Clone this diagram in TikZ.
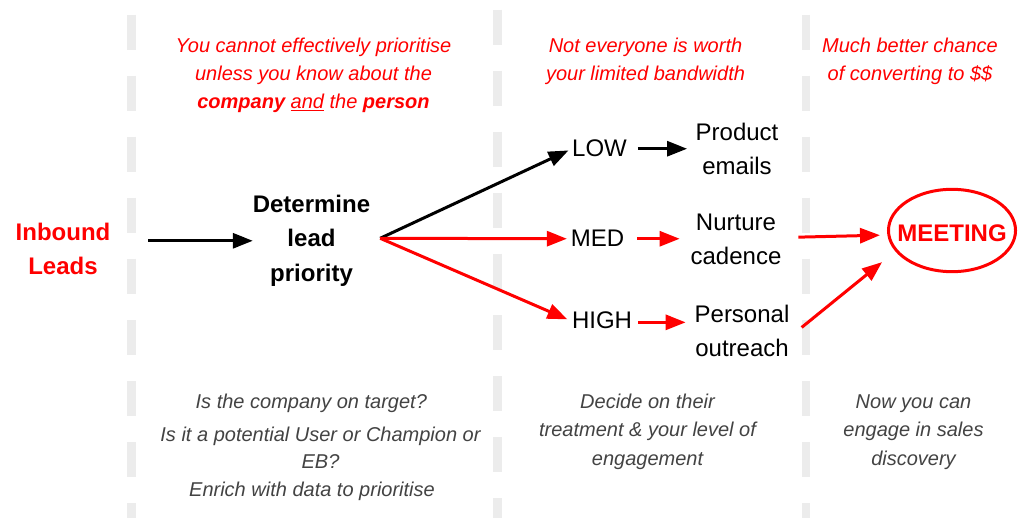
\documentclass[tikz,border=0pt]{standalone}
\usepackage{fontspec}
\setmainfont{Liberation Sans}
\usetikzlibrary{arrows.meta,shapes.geometric}
\definecolor{myred}{RGB}{255,0,0}
\definecolor{dashgray}{RGB}{236,236,236}
\definecolor{notegray}{RGB}{67,67,67}
\begin{document}
\begin{tikzpicture}[x=1pt,y=-1pt,
  every node/.style={inner sep=0pt, outer sep=0pt},
  sepline/.style={draw=dashgray, line width=8.5pt, dash pattern=on 35pt off 26pt},
  big/.style={font=\fontsize{24}{34}\selectfont, align=center, anchor=base},
  bigbold/.style={big, font=\fontsize{24}{34}\selectfont\bfseries},
  topnote/.style={font=\fontsize{20}{28}\selectfont\itshape, text=myred, align=center, anchor=base},
  botnote/.style={font=\fontsize{20}{28.5}\selectfont\itshape, text=notegray, align=center, anchor=base},
  arr/.style={line width=3pt, -{Triangle[length=20pt,width=15pt]}},
  blackarr/.style={arr, black},
  redarr/.style={arr, myred},
]
\useasboundingbox (0,0) rectangle (1024,518);
\fill[white] (0,0) rectangle (1024,518);

% column separators
\draw[sepline] (131.5,15) -- (131.5,518);
\draw[sepline] (497.5,10) -- (497.5,518);
\draw[sepline] (806,15) -- (806,518);

% main nodes (anchor=base is the baseline of the last line)
\node[bigbold, text=myred] (inbound) at (63,275) {Inbound\\Leads};
\node[bigbold] (det) at (311.5,281) {Determine\\lead\\priority};
\node[big] (low) at (599.5,157) {LOW};
\node[big] (med) at (597.5,247) {MED};
\node[big] (high) at (602,328) {HIGH};
\node[big] (prod) at (737,175) {Product\\emails};
\node[big] (nurt) at (736,265) {Nurture\\cadence};
\node[big] (pers) at (742,356) {Personal\\outreach};
\node[ellipse, draw=myred, line width=3pt, inner xsep=-9.75pt, inner ysep=17.5pt,
      minimum width=127pt, minimum height=82pt,
      text=myred, text height=23pt, font=\fontsize{24}{34}\selectfont\bfseries] (meet) at (952,230.5) {MEETING};

% connectors
\draw[blackarr, shorten <=38pt] (det.west -| inbound.east) -- (det.west);
\draw[blackarr, shorten >=4pt] ([shift={(10,-2.5)}]det.east) -- (low.west);
\draw[redarr, shorten >=4pt] ([shift={(10,-2.5)}]det.east) -- (med.west);
\draw[redarr, shorten >=5pt] ([shift={(10,-2.5)}]det.east) -- ([yshift=-1.6pt]high.west);
\draw[blackarr, shorten <=11pt, shorten >=8.6pt] (low.east) -- (low.east -| prod.west);
\draw[redarr, shorten <=13pt, shorten >=11pt] (med.east) -- (med.east -| nurt.west);
\draw[redarr, shorten <=6pt, shorten >=9pt] ([yshift=-2.6pt]high.east) -- ([yshift=-2.6pt]high.east -| pers.west);
\draw[redarr, shorten <=17pt, shorten >=8.5pt] ([yshift=2.3pt]nurt.east) -- ([yshift=-4.5pt]meet.west);
\draw[redarr] ([shift={(12.3,-3)}]pers.east) -- ([shift={(-25,2.5)}]meet.south west);

% top notes
\node[topnote] (n1) at (313.5,109) {You cannot effectively prioritise\\unless you know about the\\\textbf{company} \underline{and} the \textbf{person}};
\node[topnote] (n2) at (645.5,81) {Not everyone is worth\\your limited bandwidth};
\node[topnote] (n3) at (910,81) {Much better chance\\of converting to \$\$};

% bottom notes
\node[botnote] (b1) at (311.3,408) {Is the company on target?};
\node[botnote, font=\fontsize{20}{27}\selectfont\itshape] (b2) at (320.5,468) {Is it a potential User or Champion or\\EB?};
\node[botnote] (b3) at (312,496) {Enrich with data to prioritise};
\node[botnote] (b4) at (647.5,465) {Decide on their\\treatment \& your level of\\engagement};
\node[botnote] (b5) at (913.5,465) {Now you can\\engage in sales\\discovery};
\end{tikzpicture}
\end{document}
